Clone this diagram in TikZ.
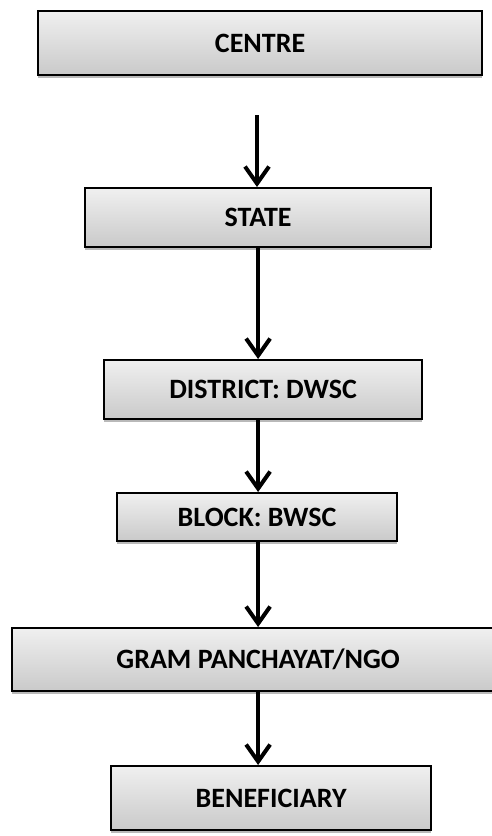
\documentclass[tikz,border=0pt]{standalone}
\usepackage{fontspec}
\setmainfont{Carlito}
\usetikzlibrary{arrows.meta,shadows}
\begin{document}
\begin{tikzpicture}[x=1pt,y=-1pt,
  orgbox/.style={draw=black, line width=2.2pt, top color=gray!12, bottom color=gray!42,
    drop shadow={shadow xshift=0pt, shadow yshift=-3pt, fill=gray!55, opacity=1},
    font=\bfseries\fontsize{28}{32}\selectfont, inner sep=0pt, anchor=north west},
  flow/.style={line width=4pt, -{Straight Barb[length=17pt,width=24pt,line width=4pt]},
    preaction={draw=gray!70, transform canvas={shift={(1.2pt,-1.2pt)}}}}
]
\useasboundingbox (0,0) rectangle (492,836);
\node[orgbox, minimum width=444pt, minimum height=64pt] (centre) at (37,10) {CENTRE};
\node[orgbox, minimum width=346pt, minimum height=59pt] (state) at (84,187) {STATE};
\node[orgbox, minimum width=318pt, minimum height=59pt] (district) at (103,359) {DISTRICT: DWSC};
\node[orgbox, minimum width=280pt, minimum height=48pt] (block) at (116,492) {BLOCK: BWSC};
\node[orgbox, minimum width=492pt, minimum height=63pt] (gp) at (11,627) {GRAM PANCHAYAT/NGO};
\node[orgbox, minimum width=320pt, minimum height=64pt] (ben) at (110,765) {BENEFICIARY};
\coordinate (a1) at (257,115);
\draw[flow] (a1) -- (a1 |- state.north);
\draw[flow] (state.south) -- (state.south |- district.north);
\draw[flow] (state.south |- district.south) -- (state.south |- block.north);
\draw[flow] (state.south |- block.south) -- (state.south |- gp.north);
\draw[flow] (state.south |- gp.south) -- (state.south |- ben.north);
\end{tikzpicture}
\end{document}
